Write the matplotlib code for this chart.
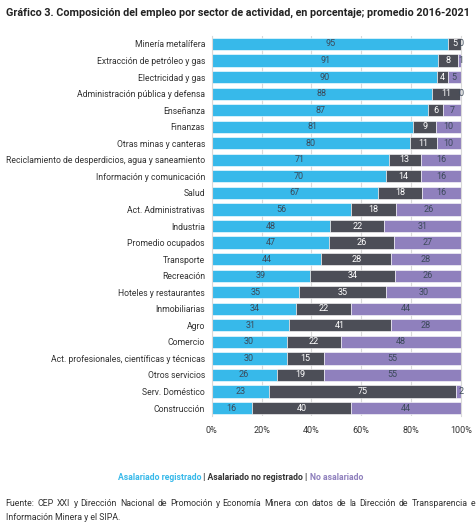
import matplotlib
matplotlib.use("Agg")
import matplotlib.pyplot as plt
from matplotlib.offsetbox import TextArea, HPacker, AnchoredOffsetbox

plt.rcParams["font.family"] = ["Roboto", "DejaVu Sans"]

sectores = [
    "Minería metalífera",
    "Extracción de petróleo y gas",
    "Electricidad y gas",
    "Administración pública y defensa",
    "Enseñanza",
    "Finanzas",
    "Otras minas y canteras",
    "Reciclamiento de desperdicios, agua y saneamiento",
    "Información y comunicación",
    "Salud",
    "Act. Administrativas",
    "Industria",
    "Promedio ocupados",
    "Transporte",
    "Recreación",
    "Hoteles y restaurantes",
    "Inmobiliarias",
    "Agro",
    "Comercio",
    "Act. profesionales, científicas y técnicas",
    "Otros servicios",
    "Serv. Doméstico",
    "Construcción",
]
# estimated shares (labels are the rounded values)
registrado = [95.0, 91.0, 90.4, 88.4, 87.0, 81.0, 79.6, 71.0, 70.0, 66.7, 56.0, 47.6,
              47.0, 44.0, 39.4, 35.0, 34.0, 31.0, 30.0, 30.0, 26.0, 23.0, 16.0]
no_registrado = [5.0, 8.0, 4.3, 11.3, 6.0, 9.0, 10.8, 13.0, 14.0, 17.8, 18.0, 21.7,
                 26.0, 28.0, 34.3, 35.0, 22.0, 41.0, 22.0, 15.0, 19.0, 75.0, 40.0]
no_asalariado = [0.0, 1.0, 5.3, 0.3, 7.0, 10.0, 9.6, 16.0, 16.0, 15.5, 26.0, 30.7,
                 27.0, 28.0, 26.3, 30.0, 44.0, 28.0, 48.0, 55.0, 55.0, 2.0, 44.0]

fuente_1 = "Fuente: CEP XXI y Dirección Nacional de Promoción y Economía Minera con datos de la Dirección de Transparencia e"
fuente_2 = "Información Minera y el SIPA."

c_reg = "#37b9ea"
c_noreg = "#4c4e57"
c_noasal = "#8f80bd"
txt_dark = "#3c4a5a"

fig = plt.figure(figsize=(4.76, 5.29), dpi=100)
ax = fig.add_axes([0.445, 0.213, 0.523, 0.7195])

y = list(range(len(sectores)))
left2 = [a for a in registrado]
left3 = [a + b for a, b in zip(registrado, no_registrado)]

h = 0.74
ax.barh(y, registrado, height=h, color=c_reg, edgecolor="white", linewidth=0.4, zorder=2)
ax.barh(y, no_registrado, left=left2, height=h, color=c_noreg, edgecolor="white", linewidth=0.4, zorder=2)
ax.barh(y, no_asalariado, left=left3, height=h, color=c_noasal, edgecolor="white", linewidth=0.4, zorder=2)

for i in y:
    ax.text(registrado[i] / 2, i, f"{registrado[i]:.0f}", ha="center", va="center",
            fontsize=6.5, color=txt_dark, zorder=3)
    ax.text(left2[i] + no_registrado[i] / 2, i, f"{no_registrado[i]:.0f}", ha="center",
            va="center", fontsize=6.5, color="white", zorder=3)
    if no_asalariado[i] < 3:
        ax.text(100, i, f"{no_asalariado[i]:.0f}", ha="center", va="center",
                fontsize=6.5, color=txt_dark, zorder=3, clip_on=False)
    else:
        ax.text(left3[i] + no_asalariado[i] / 2, i, f"{no_asalariado[i]:.0f}", ha="center",
                va="center", fontsize=6.5, color=txt_dark, zorder=3)

ax.set_xlim(0, 100)
ax.set_ylim(len(sectores) - 0.5, -0.5)
ax.set_yticks(y)
ax.set_yticklabels(sectores, fontsize=6.2, color="#333333")
ax.set_xticks([0, 20, 40, 60, 80, 100])
ax.set_xticklabels(["0%", "20%", "40%", "60%", "80%", "100%"], fontsize=6.5, color="#333333")
ax.tick_params(length=0, pad=5)
ax.tick_params(axis="x", pad=7)
ax.xaxis.grid(True, color="#d9d9d9", linewidth=0.8, zorder=0)
for s in ["top", "bottom"]:
    ax.spines[s].set_visible(False)
for s in ["left", "right"]:
    ax.spines[s].set_color("#d9d9d9")

fig.text(0.012, 0.985, "Gráfico 3. Composición del empleo por sector de actividad, en porcentaje; promedio 2016-2021",
         fontsize=7.75, fontweight="bold", ha="left", va="top", color="#222222")

parts = [
    TextArea("Asalariado registrado", textprops=dict(color=c_reg, fontsize=6.2, fontweight="bold")),
    TextArea(" | Asalariado no registrado | ", textprops=dict(color="#333333", fontsize=6.2, fontweight="bold")),
    TextArea("No asalariado", textprops=dict(color=c_noasal, fontsize=6.2, fontweight="bold")),
]
box = HPacker(children=parts, align="center", pad=0, sep=0)
anch = AnchoredOffsetbox(loc="center", child=box, frameon=False,
                         bbox_to_anchor=(0.505, 0.098), bbox_transform=fig.transFigure, pad=0)
fig.add_artist(anch)

# justified first line of the source note
renderer = fig.canvas.get_renderer()
words = fuente_1.split(" ")
x0, x1 = 0.012, 0.998
arts = [fig.text(0, 0.049, w, fontsize=6.3, ha="left", va="center", color="#333333") for w in words]
widths = [a.get_window_extent(renderer).width / fig.bbox.width for a in arts]
gap = (x1 - x0 - sum(widths)) / (len(words) - 1)
xpos = x0
for a, wd in zip(arts, widths):
    a.set_x(xpos)
    xpos += wd + gap

fig.text(0.012, 0.022, fuente_2, fontsize=6.3, ha="left", va="center", color="#333333")

fig.savefig("out.png", dpi=100)
